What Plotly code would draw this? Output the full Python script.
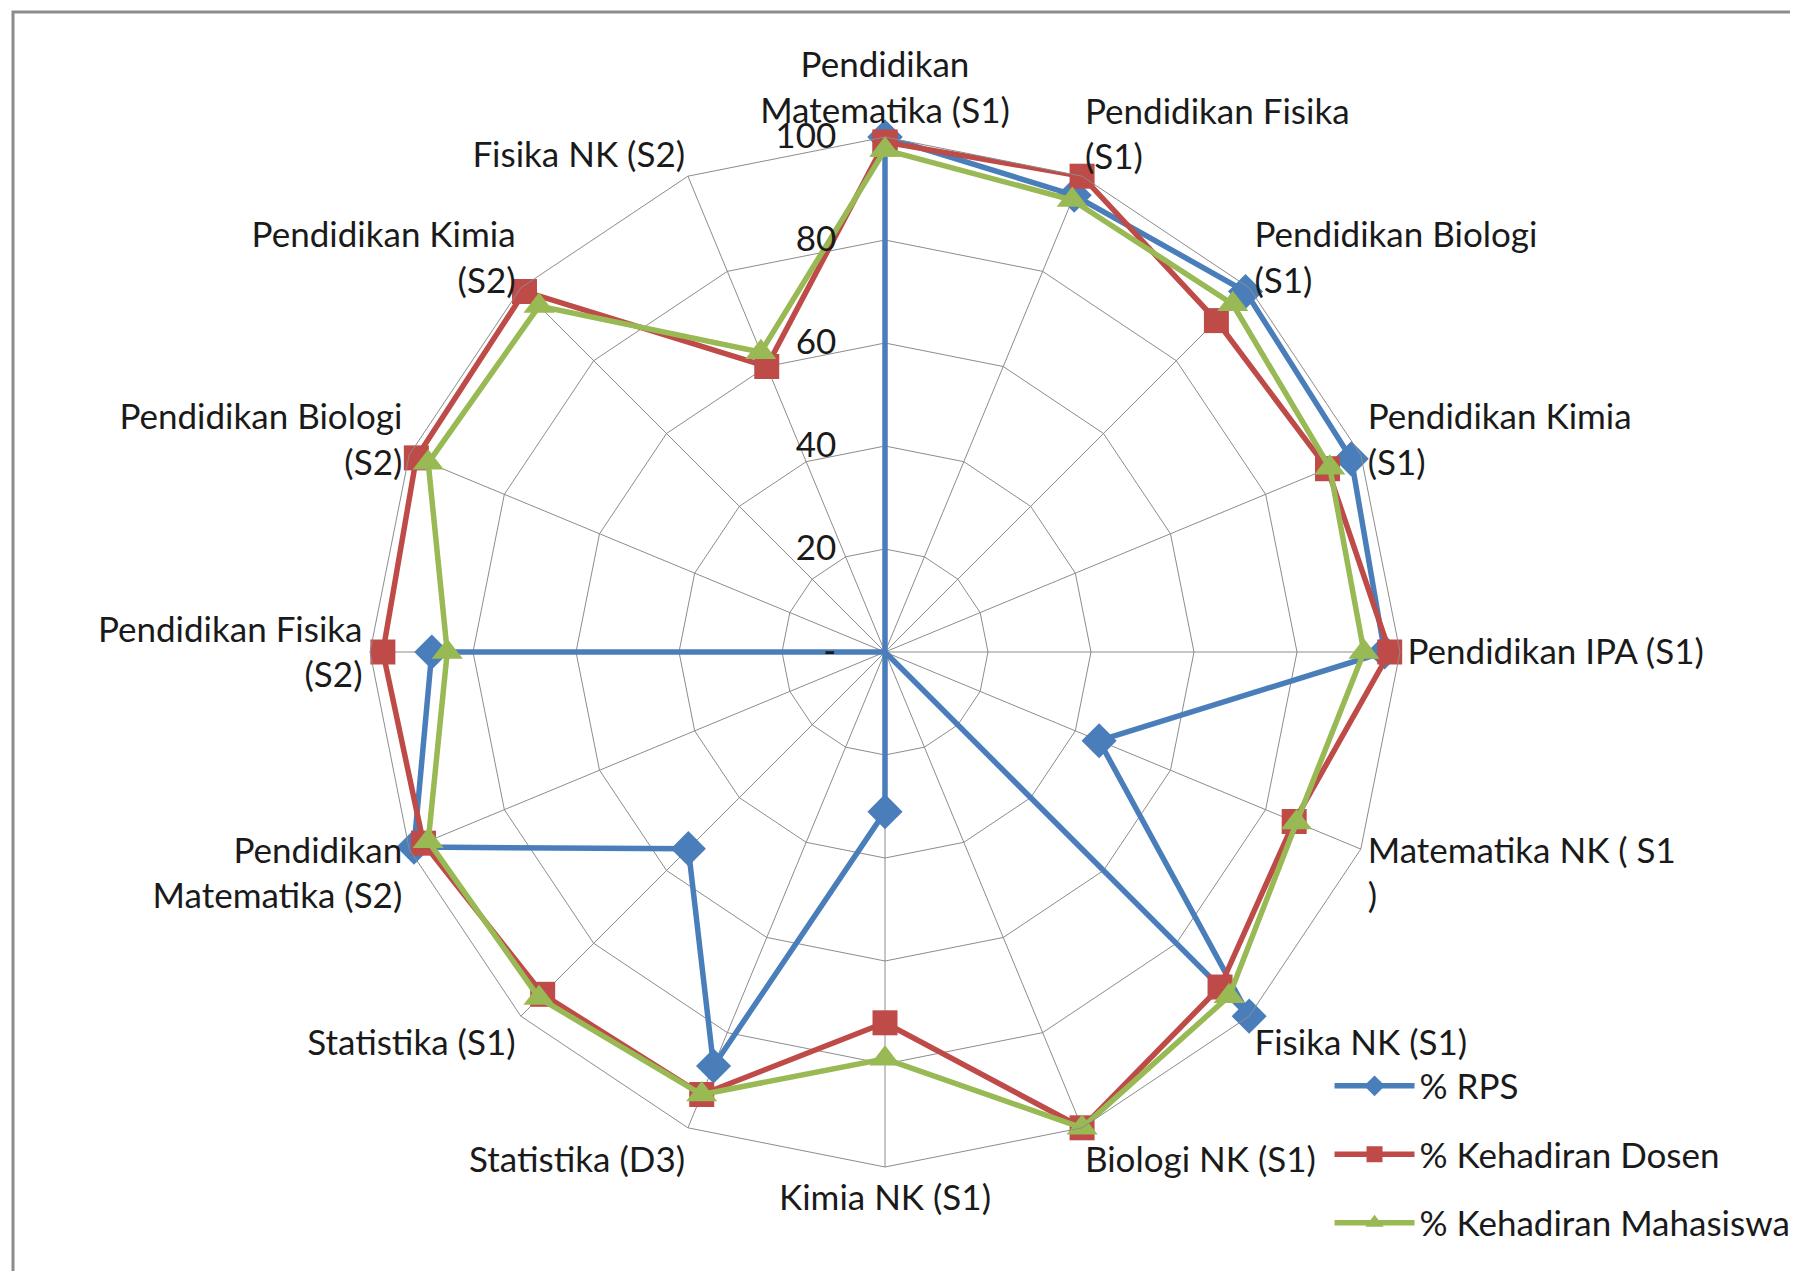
import plotly.graph_objects as go

categories = [
    "Pendidikan<br>Matematika (S1)", "Pendidikan Fisika<br>(S1)", "Pendidikan Biologi<br>(S1)",
    "Pendidikan Kimia<br>(S1)", "Pendidikan IPA (S1)", "Matematika NK ( S1<br>)",
    "Fisika NK (S1)", "Biologi NK (S1)", "Kimia NK (S1)", "Statistika (D3)",
    "Statistika (S1)", "Pendidikan<br>Matematika (S2)", "Pendidikan Fisika<br>(S2)",
    "Pendidikan Biologi<br>(S2)", "Pendidikan Kimia<br>(S2)", "Fisika NK (S2)",
]
rps = [100, 96, 99, 98, 97, 45, 100, 0, 31, 87, 54, 99, 88, 0, 0, 0]
dosen = [99, 100, 91, 93, 98, 86, 92, 100, 72, 93, 94, 97, 97.5, 98.5, 99, 60]
mahasiswa = [97.5, 95, 95.5, 93.5, 93, 86.5, 94.5, 100, 79, 93, 95, 96, 85, 96, 95, 63]
radial_ticks = [0, 20, 40, 60, 80, 100]
radial_ticktext = ["-", "20", "40", "60", "80", "100"]

FONT = "Lato"
FS = 35

def closed(v):
    return v + v[:1]

theta = closed(categories)

series = [
    ("% RPS", rps, "#4A7EBB", "diamond", 27),
    ("% Kehadiran Dosen", dosen, "#BE4B48", "square", 25),
    ("% Kehadiran Mahasiswa", mahasiswa, "#98B954", "triangle-up", 27),
]

fig = go.Figure()
for i, (name, vals, col, sym, ms) in enumerate(series):
    fig.add_trace(go.Scatterpolar(
        r=closed(vals), theta=theta, name=name, mode="lines+markers",
        line=dict(color=col, width=5.5),
        marker=dict(color=col, symbol=sym, size=ms),
        legendgroup=f"g{i}",
    ))

W, H = 1798, 1271
cx, cy, R = 877, 644, 515

fig.update_layout(
    width=W, height=H,
    margin=dict(l=0, r=0, t=0, b=0),
    paper_bgcolor="white", plot_bgcolor="white",
    font=dict(family=FONT, size=FS, color="#1a1a1a"),
    polar=dict(
        domain=dict(x=[(cx - R) / W, (cx + R) / W], y=[(H - cy - R) / H, (H - cy + R) / H]),
        gridshape="linear",
        bgcolor="white",
        angularaxis=dict(
            direction="clockwise", rotation=90,
            showline=True, linecolor="#8c8c8c", linewidth=1,
            gridcolor="#8c8c8c", gridwidth=1,
            ticks="", tickfont=dict(family=FONT, size=FS, color="#1a1a1a"),
        ),
        radialaxis=dict(
            range=[0, 100], tickvals=radial_ticks, ticktext=radial_ticktext,
            angle=90, tickangle=90, side="counterclockwise",
            showline=False, gridcolor="#8c8c8c", gridwidth=1,
            ticks="outside", ticklen=36, tickcolor="rgba(0,0,0,0)",
            tickfont=dict(family=FONT, size=FS, color="#1a1a1a"),
        ),
    ),
    legend=dict(
        x=0.735, y=0.175, xanchor="left", yanchor="top",
        bgcolor="rgba(0,0,0,0)", font=dict(family=FONT, size=FS, color="#1a1a1a"),
        tracegroupgap=20, itemwidth=80,
    ),
    shapes=[dict(type="rect", xref="paper", yref="paper",
                 x0=5 / W, x1=1792 / W, y0=(H - 1267) / H, y1=(H - 4) / H,
                 line=dict(color="#8c8c8c", width=3))],
)

fig.write_html("out.html")
